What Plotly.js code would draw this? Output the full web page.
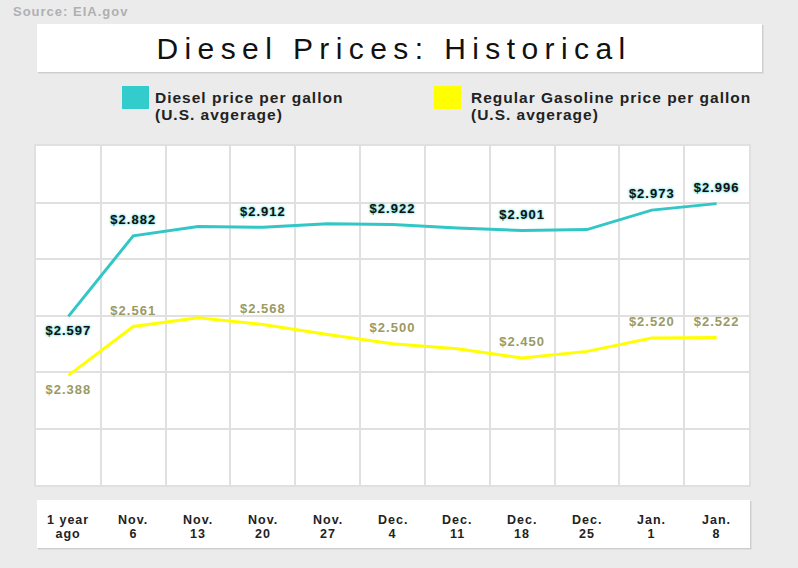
<!DOCTYPE html>
<html>
<head>
<meta charset="utf-8">
<script src="https://cdn.plot.ly/plotly-3.0.1.min.js"></script>
<style>
  html, body { margin: 0; padding: 0; background: #ebebeb; }
  #chart { width: 798px; height: 568px; }
  .main-svg text { letter-spacing: 1px; }
  .main-svg .gtitle { letter-spacing: 6.4px; }
</style>
</head>
<body>
<div id="chart"></div>
<script>
// ---- data ----
const labelTop    = ['1 year','Nov.','Nov.','Nov.','Nov.','Dec.','Dec.','Dec.','Dec.','Jan.','Jan.'];
const labelBottom = ['ago','6','13','20','27','4','11','18','25','1','8'];
const diesel   = [2.597, 2.882, 2.915, 2.912, 2.925, 2.922, 2.910, 2.901, 2.904, 2.973, 2.996];
const gasoline = [2.388, 2.561, 2.592, 2.568, 2.533, 2.500, 2.482, 2.450, 2.473, 2.520, 2.522];
const labeled  = [true, true, false, true, false, true, false, true, false, true, true];
const seriesNames = ['Diesel price per gallon', 'Regular Gasoline price per gallon'];
const seriesSub   = ['(U.S. avgerage)', '(U.S. avgerage)'];
const titleText = 'Diesel Prices: Historical';
const sourceText = 'Source: EIA.gov';

// ---- layout helpers (pixel -> paper) ----
const L = 36, R = 749, T = 146, B = 485;
const px = x => (x - L) / (R - L);
const py = y => (B - y) / (B - T);

const xs = diesel.map((_, i) => i);
const fmt = (v, i) => labeled[i] ? '$' + v.toFixed(3) : '';
const pos = i => i === 0 ? 'bottom center' : 'top center';

const FONT = 'Liberation Sans, Arial, sans-serif';

const traces = [
  {
    x: xs, y: diesel, mode: 'lines+markers+text', type: 'scatter',
    line: {color: '#33c6c6', width: 3},
    marker: {size: 12, opacity: 0, color: '#33c6c6'},
    text: diesel.map(fmt), textposition: xs.map(pos),
    textfont: {family: FONT, size: 13, weight: 'bold', color: '#111',
               shadow: '0 0 3px #6fdcdc, 0 0 2px #6fdcdc'},
    cliponaxis: false, hoverinfo: 'skip'
  },
  {
    x: xs, y: gasoline, mode: 'lines+markers+text', type: 'scatter',
    line: {color: '#ffff00', width: 3},
    marker: {size: 12, opacity: 0, color: '#ffff00'},
    text: gasoline.map(fmt), textposition: xs.map(pos),
    textfont: {family: FONT, size: 13, weight: 'bold', color: '#9b9a63'},
    cliponaxis: false, hoverinfo: 'skip'
  }
];

const shapes = [];
function box(x0, y0, x1, y1) {
  shapes.push({type: 'rect', xref: 'paper', yref: 'paper', layer: 'below',
    x0: px(x0 + 1), x1: px(x1 + 2), y0: py(y1 + 2), y1: py(y0 + 1),
    line: {width: 0}, fillcolor: 'rgba(0,0,0,0.05)'});
  shapes.push({type: 'rect', xref: 'paper', yref: 'paper', layer: 'below',
    x0: px(x0 + 1), x1: px(x1 + 1), y0: py(y1 + 1), y1: py(y0 + 1),
    line: {width: 0}, fillcolor: 'rgba(0,0,0,0.08)'});
  shapes.push({type: 'rect', xref: 'paper', yref: 'paper', layer: 'below',
    x0: px(x0), x1: px(x1), y0: py(y1), y1: py(y0),
    line: {width: 0}, fillcolor: '#ffffff'});
}
box(37, 24, 762, 72);   // title box
box(37, 500, 750, 548); // x label box

// legend squares
const legendColors = ['#33cccc', '#ffff00'];
const legendSqX = [122, 434];
const legendTxtX = [154, 470];
legendColors.forEach((c, i) => {
  shapes.push({type: 'rect', xref: 'paper', yref: 'paper',
    x0: px(legendSqX[i]), x1: px(legendSqX[i] + 27), y0: py(109), y1: py(86),
    line: {width: 0}, fillcolor: c});
});

const annotations = [];
annotations.push({text: sourceText, xref: 'paper', yref: 'paper', x: px(12), y: py(11),
  xanchor: 'left', yanchor: 'middle', align: 'left', borderpad: 0, showarrow: false,
  font: {family: FONT, size: 13, weight: 'bold', color: '#b0b0b0'}});

seriesNames.forEach((n, i) => {
  annotations.push({text: n, xref: 'paper', yref: 'paper', x: px(legendTxtX[i]), y: py(97),
    xanchor: 'left', yanchor: 'middle', align: 'left', borderpad: 0, showarrow: false,
    font: {family: FONT, size: 15.5, weight: 'bold', color: '#222'}});
  annotations.push({text: seriesSub[i], xref: 'paper', yref: 'paper', x: px(legendTxtX[i]), y: py(114),
    xanchor: 'left', yanchor: 'middle', align: 'left', borderpad: 0, showarrow: false,
    font: {family: FONT, size: 15.5, weight: 'bold', color: '#222'}});
});

xs.forEach(i => {
  annotations.push({text: labelTop[i], xref: 'x', yref: 'paper', x: i, y: py(520),
    xanchor: 'center', yanchor: 'middle', showarrow: false,
    font: {family: FONT, size: 12.5, weight: 'bold', color: '#222'}});
  annotations.push({text: labelBottom[i], xref: 'x', yref: 'paper', x: i, y: py(534),
    xanchor: 'center', yanchor: 'middle', showarrow: false,
    font: {family: FONT, size: 12.5, weight: 'bold', color: '#222'}});
});

const layout = {
  width: 798, height: 568,
  paper_bgcolor: '#ebebeb', plot_bgcolor: '#ffffff',
  margin: {l: L, r: 798 - R, t: T, b: 568 - B, pad: 0},
  showlegend: false, hovermode: false,
  title: {text: titleText, xref: 'container', yref: 'container',
          x: 394 / 798, y: 1 - 48 / 568, xanchor: 'center', yanchor: 'middle',
          font: {family: FONT, size: 30, color: '#111'}},
  xaxis: {range: [-0.5, 10.5], tickmode: 'linear', tick0: 0.5, dtick: 1,
          showticklabels: false, ticks: '', showgrid: true, gridcolor: '#e0e0e0', gridwidth: 2,
          zeroline: false, showline: true, mirror: true, linecolor: '#e0e0e0', linewidth: 2,
          fixedrange: true},
  yaxis: {range: [2.0, 3.2], tickmode: 'linear', tick0: 2.0, dtick: 0.2,
          showticklabels: false, ticks: '', showgrid: true, gridcolor: '#e0e0e0', gridwidth: 2,
          zeroline: false, showline: true, mirror: true, linecolor: '#e0e0e0', linewidth: 2,
          fixedrange: true},
  shapes: shapes,
  annotations: annotations
};

Plotly.newPlot('chart', traces, layout, {displayModeBar: false, staticPlot: true});
</script>
</body>
</html>
